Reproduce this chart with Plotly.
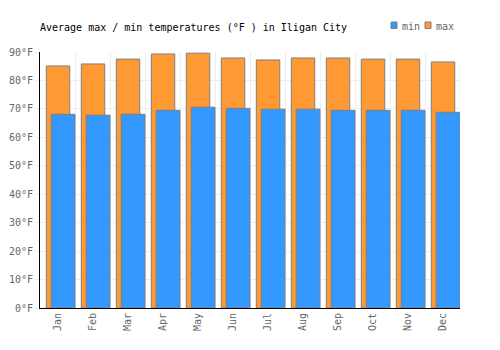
import plotly.graph_objects as go

months = ["Jan", "Feb", "Mar", "Apr", "May", "Jun", "Jul", "Aug", "Sep", "Oct", "Nov", "Dec"]
temp_max = [85.1, 85.8, 87.5, 89.3, 89.6, 87.9, 87.2, 87.9, 87.9, 87.5, 87.5, 86.5]
temp_min = [68.1, 67.8, 68.1, 69.5, 70.6, 70.2, 69.9, 69.9, 69.5, 69.5, 69.5, 68.8]
yticks = [0, 10, 20, 30, 40, 50, 60, 70, 80, 90]
ytick_labels = [f"{v}°F" for v in yticks]

FONT = "DejaVu Sans Mono"
BLUE = "#3399ff"
ORANGE = "#ff9933"
line = dict(color="#7f7f7f", width=1)

fig = go.Figure()
fig.add_trace(go.Bar(x=months, y=temp_max, name="max", marker=dict(color=ORANGE, line=line),
                     offset=-0.32, width=0.67, showlegend=False))
fig.add_trace(go.Bar(x=months, y=temp_min, name="min", marker=dict(color=BLUE, line=line),
                     offset=-0.18, width=0.68, showlegend=False))

fig.update_layout(
    width=500, height=350,
    margin=dict(l=40, r=40, t=52, b=42, autoexpand=False),
    barmode="overlay",
    plot_bgcolor="white", paper_bgcolor="white",
    font=dict(family=FONT, size=10, color="#666666"),
    title=dict(text="Average max / min temperatures (°F ) in Iligan City",
               x=40/500, xanchor="left", y=1-27/350, yanchor="middle",
               font=dict(family=FONT, size=10, color="#000000")),
    showlegend=False,
)

# manual compact legend (paper coordinates)
W, H = 500, 350
legend_items = [("min", BLUE, 391), ("max", ORANGE, 425)]
for name, col, x0 in legend_items:
    fig.add_shape(type="rect", xref="paper", yref="paper",
                  x0=(x0 - 40) / 420, x1=(x0 + 6 - 40) / 420,
                  y0=(H - 42 - 28.5) / 256, y1=(H - 42 - 22) / 256,
                  fillcolor=col, line=dict(color="#7f7f7f", width=1))
    fig.add_annotation(xref="paper", yref="paper", x=(x0 + 8.5 - 40) / 420,
                       y=(H - 42 - 26) / 256, text=name, showarrow=False,
                       xanchor="left", yanchor="middle",
                       font=dict(family=FONT, size=10, color="#666666"))

fig.update_xaxes(type="category", tickson="boundaries", showgrid=True, gridcolor="#eeeeee",
                 tickangle=-90, showline=True, linecolor="#000000", linewidth=1,
                 ticks="", range=[-0.5, 11.5])
fig.update_yaxes(range=[0, 90], tickvals=yticks, ticktext=ytick_labels, showgrid=True,
                 gridcolor="#eeeeee", showline=True, linecolor="#000000", linewidth=1,
                 ticks="outside", ticklen=4, tickcolor="#eeeeee", zeroline=False)

fig.write_html("out.html")
